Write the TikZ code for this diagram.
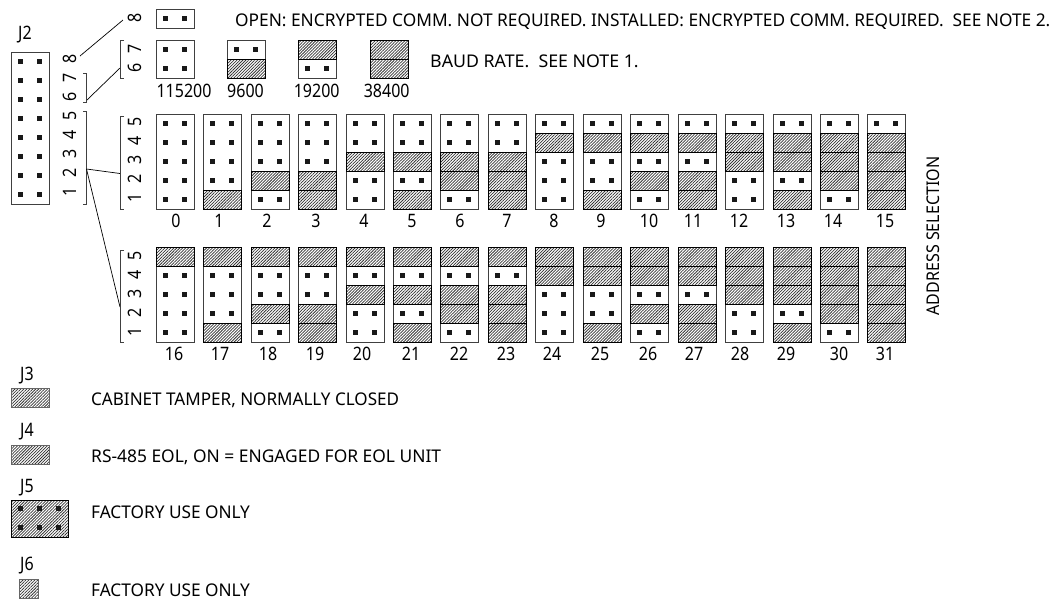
\documentclass[tikz,border=0pt]{standalone}
\usepackage{fontspec}
\usepackage{tikz}
\usetikzlibrary{patterns.meta, positioning, calc}
\setmainfont[FakeStretch=0.985]{Noto Sans}
\newfontfamily\numfont[FakeStretch=0.865]{Noto Sans}
\tikzset{
    every node/.style={inner sep=0pt},
    txt/.style={font=\fontsize{17.5}{18}\selectfont, text height=12.5pt, text depth=0pt, anchor=west},
    num/.style={font=\numfont\fontsize{18.5}{19}\selectfont, text height=13.2pt, text depth=0pt},
    jumpbox/.style={draw=black!75, line width=0.9pt, fill=white, minimum width=38pt, minimum height=#1, anchor=north west},
    hatchcell/.style={draw=black, line width=1pt, minimum width=38pt, minimum height=19pt, anchor=north west,
        pattern={Lines[angle=45,distance=2.1pt,line width=0.75pt]}, pattern color=black!80},
    pincell/.style={fill=black!90, minimum size=5pt},
    rack/.style={draw=black!75, line width=0.8pt},
    guide/.style={draw=black, line width=0.7pt},
}
% two pins of one row, row centre at (x,y)
\newcommand{\pinrow}[2]{
    \node[pincell] (p#1#2a) at (#1+9.5,#2) {};
    \node[pincell] (p#1#2b) at (#1+28.5,#2) {};
}
\begin{document}
\begin{tikzpicture}[x=1pt,y=-1pt]
    \useasboundingbox (0,0) rectangle (1058,600);

    % J2 header
    \node[num] (j2) at (25,33) {J2};
    \node[jumpbox=152pt] (j2box) at (10.7,52) {};
    \foreach \r in {0,...,7} {
        \pinrow{10.7}{61+19*\r}
    }
    \foreach \d/\y in {8/59,7/78,6/97,5/116,4/135,3/154,2/173,1/192} {
        \node[num,rotate=90] (j2d\d) at (70,\y) {\d};
    }
    \draw[rack] (83,73) -- (86.5,73) -- (86.5,102) -- (83,102);
    \draw[rack] (83,111.6) -- (86.5,111.6) -- (86.5,204) -- (83,204);
    \coordinate (enc) at (123,20);
    \coordinate (j2enc) at (80,56);
    \coordinate (j2baud) at (87,100);
    \coordinate (baud) at (120,68);
    \coordinate (j2addr) at (86.5,169);
    \coordinate (addra) at (120,173.5);
    \coordinate (addrb) at (120,307);
    \draw[guide] (j2enc) -- (enc);
    \draw[guide] (j2baud) -- (baud);
    \draw[guide] (j2addr) -- (addra);
    \draw[guide] (j2addr) -- (addrb);

    % encrypted comm
    \node[num,rotate=90] (d8) at (135,18) {8};
    \node[jumpbox=19pt] (encbox) at (155.7,9) {};
    \pinrow{155.7}{18.5}
    \node[txt,xscale=1.004] (enctext) at (235,20.5) {OPEN: ENCRYPTED COMM. NOT REQUIRED. INSTALLED: ENCRYPTED COMM. REQUIRED.\ \ SEE NOTE 2.};

    % baud rate
    \draw[rack] (124,40) -- (120,40) -- (120,78) -- (124,78);
    \node[num,rotate=90] (d7) at (135,49) {7};
    \node[num,rotate=90] (d6) at (135,68) {6};
    \foreach \x/\t/\hi/\lo/\lx in {155.7/115200/0/0/184, 226.9/9600/0/1/245.5, 298.3/19200/1/0/316.7, 369.5/38400/1/1/386.7} {
        \node[jumpbox=38pt] (baud\t) at (\x,40) {};
        \ifnum\hi=1 \node[hatchcell] at (\x,40) {}; \else \pinrow{\x}{49} \fi
        \ifnum\lo=1 \node[hatchcell] at (\x,59) {}; \else \pinrow{\x}{68} \fi
        \node[num] (l\t) at (\lx,91) {\t};
    }
    \node[txt,xscale=1.03] (baudtext) at (430,61.5) {BAUD RATE.\ \ SEE NOTE 1.};

    % address brackets
    \draw[rack] (124,116) -- (120,116) -- (120,209) -- (124,209);
    \draw[rack] (124,250) -- (120,250) -- (120,342) -- (124,342);
    \foreach \off in {0,134} {
        \foreach \d/\y in {5/122,4/141,3/160,2/179,1/198} {
            \node[num,rotate=90] at (135,\y+\off) {\d};
        }
    }

    % address jumpers
    \foreach \n/\lx in {0/176,1/219,2/267,3/316,4/364,5/412,6/460,7/507,8/554,9/601,10/649,11/693,12/739,13/786,14/833,15/885,
        16/174,17/220,18/268,19/315,20/362,21/411,22/459,23/506,24/552,25/600,26/648,27/694,28/740,29/786,30/839,31/885} {
        \pgfmathtruncatemacro{\c}{mod(\n,16)}
        \pgfmathsetmacro{\x}{155.7+47.45*\c}
        \pgfmathsetmacro{\y}{\n<16 ? 113.7 : 247}
        \node[jumpbox=95.2pt] (a\n) at (\x,\y) {};
        \foreach \b in {0,...,4} {
            \pgfmathtruncatemacro{\on}{mod(floor(\n/2^\b),2)}
            \pgfmathsetmacro{\yc}{\y+76.2-19.05*\b}
            \ifnum\on=1
                \node[hatchcell] at (\x,\yc) {};
            \else
                \pinrow{\x}{\yc+9.5}
            \fi
        }
        \node[num] (n\n) at (\lx,\y+107) {\n};
    }
    \node[txt,anchor=center,rotate=90,xscale=0.93] (addrtext) at (933,236) {ADDRESS SELECTION};

    % J3 to J6
    \node[num] (j3) at (27,374) {J3};
    \node[hatchcell,draw=black!60] (j3box) at (10.7,388) {};
    \node[txt,xscale=0.99] (j3text) at (91,399) {CABINET TAMPER, NORMALLY CLOSED};
    \node[num] (j4) at (27,430) {J4};
    \node[hatchcell,draw=black!60] (j4box) at (10.7,445) {};
    \node[txt,xscale=1.009] (j4text) at (91,456.7) {RS-485 EOL, ON = ENGAGED FOR EOL UNIT};
    \node[num] (j5) at (27,486) {J5};
    \node[hatchcell, minimum width=57pt, minimum height=37pt] (j5box) at (10.7,499.7) {};
    \foreach \x in {20,39,58} {
        \foreach \y in {508,527} {
            \node[pincell] at (\x,\y) {};
        }
    }
    \node[txt] (j5text) at (91,512) {FACTORY USE ONLY};
    \node[num] (j6) at (27,564) {J6};
    \node[hatchcell,draw=black!60, minimum width=19pt] (j6box) at (19,578.5) {};
    \node[txt] (j6text) at (91,590) {FACTORY USE ONLY};
\end{tikzpicture}
\end{document}
